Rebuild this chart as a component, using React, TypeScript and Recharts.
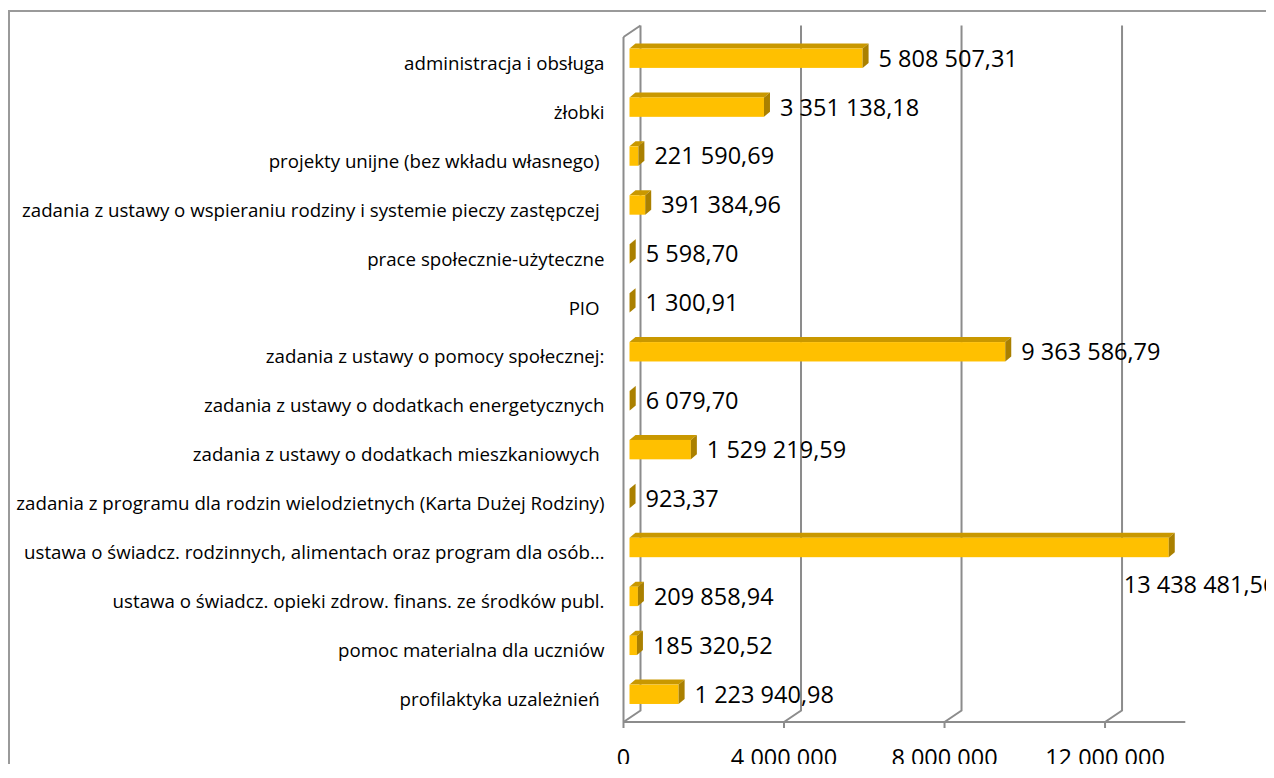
import React from 'react';
import { BarChart, Bar, XAxis, YAxis, CartesianGrid, LabelList } from 'recharts';

const categories = [
  'administracja i obsługa',
  'żłobki',
  'projekty unijne (bez wkładu własnego) ',
  'zadania z ustawy o wspieraniu rodziny i systemie pieczy zastępczej ',
  'prace społecznie-użyteczne',
  'PIO ',
  'zadania z ustawy o pomocy społecznej:',
  'zadania z ustawy o dodatkach energetycznych',
  'zadania z ustawy o dodatkach mieszkaniowych ',
  'zadania z programu dla rodzin wielodzietnych (Karta Dużej Rodziny)',
  'ustawa o świadcz. rodzinnych, alimentach oraz program dla osób…',
  'ustawa o świadcz. opieki zdrow. finans. ze środków publ.',
  'pomoc materialna dla uczniów',
  'profilaktyka uzależnień ',
];

const amounts = [
  5808507.31, 3351138.18, 221590.69, 391384.96, 5598.7, 1300.91, 9363586.79,
  6079.7, 1529219.59, 923.37, 13438481.56, 209858.94, 185320.52, 1223940.98,
];

const valueTicks = [0, 4000000, 8000000, 12000000];
const valueDomain = [0, 14000000];
const bandTicks = [0, 1, 2, 3, 4, 5, 6, 7, 8, 9, 10, 11, 12, 13, 14];

const data = categories.map((name, i) => ({ name, value: amounts[i] }));

const CHART_W = 1264;
const CHART_H = 766;
const FONT = "'Open Sans', 'Noto Sans', sans-serif";
const GRID = '#8c8c8c';
const FRONT = '#FFC000';
const TOP = '#C99800';
const SIDE = '#AA8000';
const DX = 6;
const DY = -5;
const SHIFT_X = 6;
const SHIFT_Y = -3.5;
const WALL_DX = 17;
const WALL_DY = -11.5;

const groupSpace = (s: string) => s.replace(/\B(?=(\d{3})+(?!\d))/g, ' ');
const fmtAxis = (v: number) => groupSpace(String(Math.round(v)));
const fmtValue = (v: number) => {
  const [i, d] = v.toFixed(2).split('.');
  return groupSpace(i) + ',' + d;
};

function Bar3D(props: any) {
  const { x, y, width, height } = props;
  const x0 = x + SHIFT_X;
  const y0 = y + SHIFT_Y;
  const w = Math.max(width || 0, 0);
  const h = height;
  return (
    <g>
      <polygon
        points={`${x0},${y0} ${x0 + DX},${y0 + DY} ${x0 + w + DX},${y0 + DY} ${x0 + w},${y0}`}
        fill={TOP}
      />
      <rect x={x0} y={y0} width={w} height={h} fill={FRONT} />
      <polygon
        points={`${x0 + w},${y0} ${x0 + w + DX},${y0 + DY} ${x0 + w + DX},${y0 + h + DY} ${x0 + w},${y0 + h}`}
        fill={SIDE}
      />
    </g>
  );
}

function wallLine(props: any) {
  const { x1, y1, y2, index } = props;
  const left = props.x;
  const right = props.x + props.width;
  if (right != null && !isNaN(right) && x1 >= right - 0.5) return <g key={`wall-${index}`} />;
  const top = Math.min(y1, y2);
  const bottom = Math.max(y1, y2);
  const bx = x1 + WALL_DX;
  let d = `M${bx},${top + WALL_DY} L${bx},${bottom + WALL_DY} L${x1},${bottom}`;
  const isLeft = left != null && !isNaN(left) ? x1 <= left + 0.5 : index === 0;
  if (isLeft) d += ` M${x1},${top} L${bx},${top + WALL_DY}`;
  return <path key={`wall-${index}`} d={d} stroke={GRID} strokeWidth={2} fill="none" />;
}

function CatTick(props: any) {
  const { x, y, payload } = props;
  return (
    <text
      x={x}
      y={y}
      dy="0.45em"
      textAnchor="end"
      fontFamily={FONT}
      fontSize={18.7}
      fill="#000"
      style={{ whiteSpace: 'pre' }}
    >
      {payload.value}
    </text>
  );
}

function ValueTick(props: any) {
  const { x, y, payload } = props;
  return (
    <text x={x} y={y} dy="0.71em" textAnchor="middle" fontFamily={FONT} fontSize={23.5} fill="#000">
      {fmtAxis(payload.value)}
    </text>
  );
}

function ValueLabel(props: any) {
  const vb = props.viewBox || {};
  const x = props.x ?? vb.x;
  const y = props.y ?? vb.y;
  const width = props.width ?? vb.width ?? 0;
  const height = props.height ?? vb.height ?? 0;
  const value = Number(props.value);
  const text = fmtValue(value);
  const endX = x + Math.max(width, 0) + SHIFT_X;
  const cy = y + SHIFT_Y + height / 2;
  let lx = endX + DX + 10;
  let ly = cy;
  if (lx + text.length * 12 > CHART_W) {
    lx = endX - 45;
    ly = cy + 37;
  }
  return (
    <text x={lx} y={ly} dy="0.357em" textAnchor="start" fontFamily={FONT} fontSize={23.5} fill="#000">
      {text}
    </text>
  );
}

export default function App() {
  return (
    <div
      style={{
        position: 'relative',
        top: 2,
        width: CHART_W,
        height: CHART_H,
        marginBottom: -12,
        borderTop: `2px solid #9a9a9a`,
        borderLeft: `2px solid #9a9a9a`,
        background: '#fff',
      }}
    >
      <BarChart
        width={CHART_W}
        height={CHART_H}
        data={data}
        layout="vertical"
        margin={{ top: 25, right: 88.7, bottom: 9, left: 613.48 }}
        barSize={19.4}
      >
        <CartesianGrid
          xAxisId="val"
          yAxisId="cat"
          horizontal={false}
          vertical={wallLine}
          stroke={GRID}
        />
        <XAxis
          xAxisId="val"
          type="number"
          domain={valueDomain}
          ticks={valueTicks}
          allowDataOverflow
          height={47}
          tickSize={6}
          tickMargin={21}
          axisLine={{ stroke: GRID, strokeWidth: 2 }}
          tickLine={{ stroke: GRID, strokeWidth: 2 }}
          tick={<ValueTick />}
          interval={0}
        />
        <YAxis
          yAxisId="cat"
          type="category"
          dataKey="name"
          width={0.01}
          axisLine={false}
          tickLine={false}
          tickSize={0}
          tickMargin={19}
          tick={<CatTick />}
          interval={0}
        />
        <YAxis
          yAxisId="band"
          type="number"
          domain={[0, 14]}
          ticks={bandTicks}
          allowDataOverflow
          width={0.01}
          tick={false}
          tickSize={6}
          axisLine={{ stroke: GRID, strokeWidth: 2 }}
          tickLine={{ stroke: GRID, strokeWidth: 2 }}
          interval={0}
        />
        <Bar
          xAxisId="val"
          yAxisId="cat"
          dataKey="value"
          isAnimationActive={false}
          shape={Bar3D}
        >
          <LabelList dataKey="value" content={ValueLabel} />
        </Bar>
      </BarChart>
    </div>
  );
}
